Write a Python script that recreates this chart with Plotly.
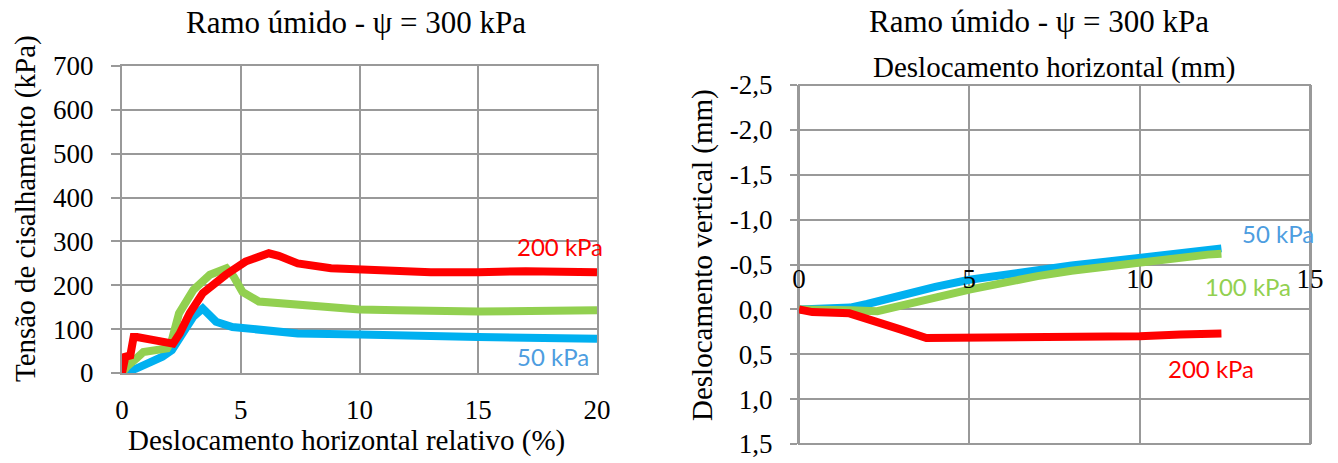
import plotly.graph_objects as go

# ---------------- Data: left chart (shear stress vs relative horizontal displacement) ----------------
x_200 = [0, 0.14, 0.35, 0.49, 0.63, 1.18, 2.15, 2.43, 2.85, 3.4, 4.37, 5.2, 6.18, 6.6, 7.4, 8.8, 10, 11.6, 13, 15, 17, 20]
y_200 = [0, 37, 40, 82, 82, 75, 67, 90, 136, 182, 224, 254, 273, 267, 250, 239, 236, 232, 230, 230, 232, 230]

x_100 = [0, 0.2, 0.6, 0.9, 1.9, 2.1, 2.4, 3.0, 3.7, 4.4, 4.7, 5.07, 5.76, 7.4, 10, 11.6, 15, 20]
y_100 = [0, 14, 33, 48, 56, 75, 136, 189, 224, 239, 220, 185, 163, 155, 145, 143, 140, 143]

x_50 = [0, 0.2, 0.6, 1.2, 1.7, 2.1, 2.6, 3.0, 3.4, 3.7, 3.96, 4.65, 6.0, 7.4, 10, 11.6, 15, 20]
y_50 = [0, 2, 10, 25, 37, 52, 98, 128, 147, 132, 117, 105, 98, 90, 88, 85, 82, 78]

# ---------------- Data: right chart (vertical vs horizontal displacement, mm) ----------------
xr_50 = [0, 0.5, 1.5, 2.0, 3, 4, 5, 6, 7, 8, 9, 10, 11, 12, 12.4]
yr_50 = [0, -0.01, -0.02, -0.06, -0.16, -0.25, -0.33, -0.39, -0.44, -0.49, -0.53, -0.58, -0.63, -0.67, -0.68]

xr_100 = [0, 0.5, 1.5, 2.3, 3, 4, 5, 6, 7, 8, 9, 10, 11, 12, 12.4]
yr_100 = [0, 0.01, 0.01, 0.02, -0.05, -0.13, -0.22, -0.3, -0.37, -0.43, -0.48, -0.53, -0.57, -0.61, -0.62]

xr_200 = [0, 0.39, 1.48, 1.97, 2.95, 3.74, 5, 7.3, 10, 11.2, 12.4]
yr_200 = [0, 0.03, 0.044, 0.11, 0.22, 0.32, 0.32, 0.32, 0.30, 0.28, 0.27]

left_yticks = [0, 100, 200, 300, 400, 500, 600, 700]
left_xticks = [0, 5, 10, 15, 20]
right_xticks = [0, 5, 10, 15]
right_yticks = [-2.5, -2.0, -1.5, -1.0, -0.5, 0.0, 0.5, 1.0, 1.5]
right_yticktext = ["-2,5", "-2,0", "-1,5", "-1,0", "-0,5", "0,0", "0,5", "1,0", "1,5"]

RED = "#ff0000"
GREEN = "#92d050"
BLUE = "#00b0f0"
BLUE_LABEL = "#4d9de0"
GRID = "#999999"
SERIF = "Liberation Serif"
SANS = "Lato"

W, H = 1338, 463

fig = go.Figure()

def line(x, y, color, xa, ya):
    fig.add_trace(go.Scatter(x=x, y=y, mode="lines", xaxis=xa, yaxis=ya,
                             line=dict(color=color, width=8, shape="linear"),
                             showlegend=False, hoverinfo="skip"))

line(x_50, y_50, BLUE, "x", "y")
line(x_100, y_100, GREEN, "x", "y")
line(x_200, y_200, RED, "x", "y")

line(xr_50, yr_50, BLUE, "x2", "y2")
line(xr_100, yr_100, GREEN, "x2", "y2")
line(xr_200, yr_200, RED, "x2", "y2")

tickfont = dict(family=SERIF, size=27, color="black")

# left plot domains (pixel-based)
lx0, lx1 = 122 / W, 597 / W
ly0, ly1 = 1 - 373 / H, 1 - 66 / H
# right plot domains
rx0, rx1 = 799 / W, 1310 / W
ry0, ry1 = 1 - 444 / H, 1 - 85 / H

fig.update_layout(
    width=W, height=H,
    margin=dict(l=0, r=0, t=0, b=0, pad=0, autoexpand=False),
    paper_bgcolor="white", plot_bgcolor="white",
    xaxis=dict(domain=[lx0, lx1], range=[0, 20], tickvals=left_xticks,
               showgrid=True, gridcolor=GRID, gridwidth=2, zeroline=False,
               showline=True, mirror=True, linecolor=GRID, linewidth=2,
               ticks="", tickfont=tickfont, ticklabelstandoff=12,
               anchor="y", automargin=False),
    yaxis=dict(domain=[ly0, ly1], range=[0, 700], tickvals=left_yticks,
               showgrid=True, gridcolor=GRID, gridwidth=2, zeroline=False,
               showline=True, mirror=True, linecolor=GRID, linewidth=2,
               ticks="outside", ticklen=9, tickcolor=GRID, tickwidth=2,
               tickfont=tickfont, ticklabelstandoff=12, anchor="x", automargin=False),
    xaxis2=dict(domain=[rx0, rx1], range=[0, 15], tickvals=right_xticks,
                showgrid=True, gridcolor=GRID, gridwidth=2, zeroline=False,
                showline=False, ticks="", tickfont=tickfont, ticklabelstandoff=-5,
                anchor="free", position=(ry0 + ry1) / 2, automargin=False),
    yaxis2=dict(domain=[ry0, ry1], range=[1.5, -2.5], tickvals=right_yticks,
                ticktext=right_yticktext,
                showgrid=True, gridcolor=GRID, gridwidth=2, zeroline=False,
                showline=True, mirror=True, linecolor=GRID, linewidth=2,
                ticks="outside", ticklen=7, tickcolor=GRID, tickwidth=2,
                tickfont=tickfont, ticklabelstandoff=12, anchor="x2", automargin=False),
)

# frame around the right plot area
fig.add_shape(type="rect", xref="x2 domain", yref="y2 domain", x0=0, x1=1, y0=0, y1=1,
              line=dict(color=GRID, width=2), fillcolor="rgba(0,0,0,0)", layer="below")

ann = []

def add_text(text, x, y, xref, yref, family, size, color, angle=0):
    ann.append(dict(text=text, x=x, y=y, xref=xref, yref=yref, showarrow=False,
                    xanchor="center", yanchor="middle", textangle=angle,
                    font=dict(family=family, size=size, color=color)))

# titles
add_text("Ramo úmido - ψ = 300 kPa", 356 / W, 1 - 23 / H, "paper", "paper", SERIF, 31, "black")
add_text("Ramo úmido - ψ = 300 kPa", 1039 / W, 1 - 21 / H, "paper", "paper", SERIF, 31, "black")
# axis titles
add_text("Deslocamento horizontal relativo (%)", 346 / W, 1 - 440 / H, "paper", "paper", SERIF, 29, "black")
add_text("Tensão de cisalhamento (kPa)", 25 / W, 1 - 209 / H, "paper", "paper", SERIF, 29, "black", -90)
add_text("Deslocamento horizontal (mm)", 1054 / W, 1 - 68 / H, "paper", "paper", SERIF, 29, "black")
add_text("Deslocamento vertical (mm)", 702 / W, 1 - 255 / H, "paper", "paper", SERIF, 29, "black", -90)
# series labels, left chart
add_text("200 kPa", 18.44, 288, "x", "y", SANS, 24, RED)
add_text("100 kPa", 22.2, 148, "x", "y", SANS, 24, GREEN)
add_text("50 kPa", 18.15, 37, "x", "y", SANS, 24, BLUE_LABEL)
# series labels, right chart
add_text("50 kPa", 14.06, -0.84, "x2", "y2", SANS, 24, BLUE_LABEL)
add_text("100 kPa", 13.19, -0.25, "x2", "y2", SANS, 24, GREEN)
add_text("200 kPa", 12.1, 0.66, "x2", "y2", SANS, 24, RED)

fig.update_layout(annotations=ann)

fig.write_html("out.html", config={"displayModeBar": False},
               post_script="document.body.style.margin='0';document.body.style.overflow='hidden';")
